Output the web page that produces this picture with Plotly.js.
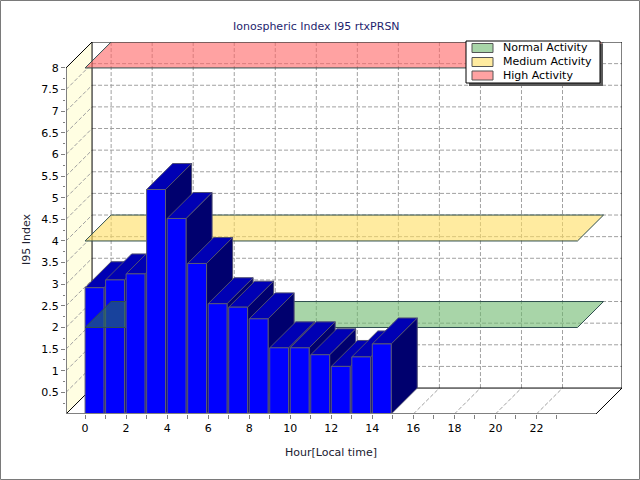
<!DOCTYPE html>
<html>
<head>
<meta charset="utf-8">
<script src="https://cdn.plot.ly/plotly-3.0.1.min.js"></script>
<style>
body{margin:0;background:#fff}
#chart{width:640px;height:480px}
</style>
</head>
<body>
<div id="chart"></div>
<script>
// hourly I95 index
const hours = [0, 1, 2, 3, 4, 5, 6, 7, 8, 9, 10, 11, 12, 13, 14];
const i95 = [2.92, 3.10, 3.24, 5.19, 4.52, 3.48, 2.55, 2.47, 2.20, 1.53, 1.53, 1.37, 1.10, 1.32, 1.62];

// activity thresholds
const levelNames = ['Normal Activity', 'Medium Activity', 'High Activity'];
const levelValues = [2, 4, 8];
const levelHours = [0, 24];

// axis ticks
const xTickVals = [0, 1, 2, 3, 4, 5, 6, 7, 8, 9, 10, 11, 12, 13, 14, 15, 16, 17, 18, 19, 20, 21, 22, 23];
const xTickText = ['0', '', '2', '', '4', '', '6', '', '8', '', '10', '', '12', '', '14', '', '16', '', '18', '', '20', '', '22', ''];
const xGridVals = [0, 2, 4, 6, 8, 10, 12, 14, 16, 18, 20, 22];
const yTickVals = [0.5, 1, 1.5, 2, 2.5, 3, 3.5, 4, 4.5, 5, 5.5, 6, 6.5, 7, 7.5, 8];
const yMinorVals = [0.25, 0.75, 1.25, 1.75, 2.25, 2.75, 3.25, 3.75, 4.25, 4.75, 5.25, 5.75, 6.25, 6.75, 7.25, 7.75];

// fake 3d: depth offset in axis units, front floor extent, bar width
const DX = 1.27, DY = 0.6;
const X0 = -0.93, X1 = 24.9, YTOP = 8;
const BW = 0.92;

const levelFill = ['rgba(110,185,110,0.6)', 'rgba(255,222,97,0.6)', 'rgba(255,100,100,0.6)'];
const levelSwatch = ['#A8D5A8', '#FFEBA0', '#FFA2A2'];

// plot area in pixels, for the paper items
const L = 66, T = 42, W = 556, H = 372;
function px(x){ return (x - L) / W; }
function py(y){ return (T + H - y) / H; }

function poly(xs, ys, fill, line){
    return {
        type: 'scatter', mode: 'lines',
        x: xs.concat([xs[0]]), y: ys.concat([ys[0]]),
        fill: 'toself', fillcolor: fill,
        line: {color: line || fill, width: line ? 1 : 0},
        hoverinfo: 'skip', showlegend: false
    };
}

function segs(list, color, width, dash){
    let x = [], y = [];
    list.forEach(s => {
        x.push(s[0], s[2], null);
        y.push(s[1], s[3], null);
    });
    return {
        type: 'scatter', mode: 'lines', x: x, y: y,
        line: {color: color, width: width, dash: dash || 'solid'},
        hoverinfo: 'skip', showlegend: false
    };
}

let traces = [];

// left wall
traces.push(poly([X0, X0 + DX, X0 + DX, X0], [0, DY, YTOP + DY, YTOP], '#FFFEE2'));

// dashed grid on walls and floor
let grid = [];
yTickVals.filter(v => v < YTOP).forEach(v => {
    grid.push([X0 + DX, v + DY, X1 + DX, v + DY]);
    grid.push([X0, v, X0 + DX, v + DY]);
});
xGridVals.forEach(h => {
    grid.push([h + DX, DY, h + DX, YTOP + DY]);
    grid.push([h, 0, h + DX, DY]);
});
traces.push(segs(grid, '#A0A0A0', 1, '4px,2px'));

// box edges
traces.push(segs([
    [X0 + DX, DY, X1 + DX, DY],
    [X0 + DX, DY, X0 + DX, YTOP + DY],
    [X0 + DX, YTOP + DY, X1 + DX, YTOP + DY],
    [X1 + DX, DY, X1 + DX, YTOP + DY],
    [X0, YTOP, X0 + DX, YTOP + DY],
    [X0, 0, X0 + DX, DY],
    [X1, 0, X1 + DX, DY]
], '#000000', 1));

// activity planes
levelValues.forEach((v, i) => {
    let a = levelHours[0], b = levelHours[1];
    traces.push(poly([a, b, b + DX, a + DX], [v, v, v + DY, v + DY], levelFill[i], '#2F4F4F'));
});

// bars, left to right so nearer ones cover
hours.forEach((h, i) => {
    let v = i95[i];
    traces.push(poly([h + BW, h + BW + DX, h + BW + DX, h + BW], [0, DY, v + DY, v], '#00006E', '#4E4E72'));
    traces.push(poly([h, h + BW, h + BW + DX, h + DX], [v, v, v + DY, v + DY], '#0000B4', '#4E4E72'));
    traces.push(poly([h, h + BW, h + BW, h], [0, 0, v, v], '#0000FF', '#5A5A78'));
    // the normal plane shows through the first two bars in the original
    if (i == 1) {
        let v0 = levelValues[0], a = levelHours[0], b = hours[2];
        traces.push(poly([a, b, b, a + DX], [v0, v0, v0 + DY, v0 + DY], 'rgba(40,110,90,0.6)', '#2F4F4F'));
    }
});

// front axis lines
traces.push(segs([[X0, 0, X1, 0], [X0, 0, X0, YTOP]], '#808080', 2));

// legend drawn by hand
let shapes = [
    {type: 'rect', xref: 'paper', yref: 'paper', x0: px(469), x1: px(603), y0: py(44), y1: py(86),
     fillcolor: '#5A5A5A', line: {width: 0}},
    {type: 'rect', xref: 'paper', yref: 'paper', x0: px(466), x1: px(600), y0: py(41), y1: py(83),
     fillcolor: '#FFFFFF', line: {color: '#000000', width: 1}},
    {type: 'rect', xref: 'paper', yref: 'paper', x0: px(0.5), x1: px(639.5), y0: py(0.5), y1: py(479.5),
     fillcolor: 'rgba(0,0,0,0)', line: {color: '#7A7A7A', width: 1}}
];
let annotations = [];
const rowY = [48, 62, 75.5];
levelNames.forEach((n, i) => {
    shapes.push({type: 'rect', xref: 'paper', yref: 'paper',
        x0: px(472), x1: px(493), y0: py(rowY[i] - 4.5), y1: py(rowY[i] + 4.5),
        fillcolor: levelSwatch[i], line: {color: '#555555', width: 1}});
    annotations.push({xref: 'paper', yref: 'paper', x: px(501), y: py(rowY[i]),
        xanchor: 'left', yanchor: 'middle', showarrow: false, text: n,
        font: {size: 11, color: '#000000'}});
});

annotations.push(
    {xref: 'paper', yref: 'paper', x: px(316), y: py(26), xanchor: 'center', yanchor: 'middle',
     showarrow: false, text: 'Ionospheric Index I95 rtxPRSN', font: {size: 11, color: '#1E1E6E'}},
    {xref: 'paper', yref: 'paper', x: px(330.5), y: py(453), xanchor: 'center', yanchor: 'middle',
     showarrow: false, text: 'Hour[Local time]', font: {size: 11, color: '#202030'}},
    {xref: 'paper', yref: 'paper', x: px(26), y: py(239), xanchor: 'center', yanchor: 'middle',
     showarrow: false, textangle: -90, text: 'I95 Index', font: {size: 11, color: '#202030'}}
);

let layout = {
    width: 640, height: 480,
    margin: {l: L, r: 640 - L - W, t: T, b: 480 - T - H, pad: 0},
    paper_bgcolor: '#FFFFFF', plot_bgcolor: '#FFFFFF',
    font: {family: 'DejaVu Sans', size: 11, color: '#000000'},
    showlegend: false,
    xaxis: {
        range: [X0, X1 + DX], showgrid: false, zeroline: false, showline: false,
        tickmode: 'array', tickvals: xTickVals, ticktext: xTickText,
        ticks: 'outside', ticklen: 4, tickcolor: '#808080', fixedrange: true
    },
    yaxis: {
        range: [0, YTOP + DY], showgrid: false, zeroline: false, showline: false,
        tickmode: 'array', tickvals: yTickVals,
        ticks: 'outside', ticklen: 4, tickcolor: '#808080', fixedrange: true,
        minor: {tickmode: 'array', tickvals: yMinorVals, ticks: 'outside', ticklen: 2, tickcolor: '#808080'}
    },
    shapes: shapes,
    annotations: annotations
};

Plotly.newPlot('chart', traces, layout, {staticPlot: true, displayModeBar: false});
</script>
</body>
</html>
